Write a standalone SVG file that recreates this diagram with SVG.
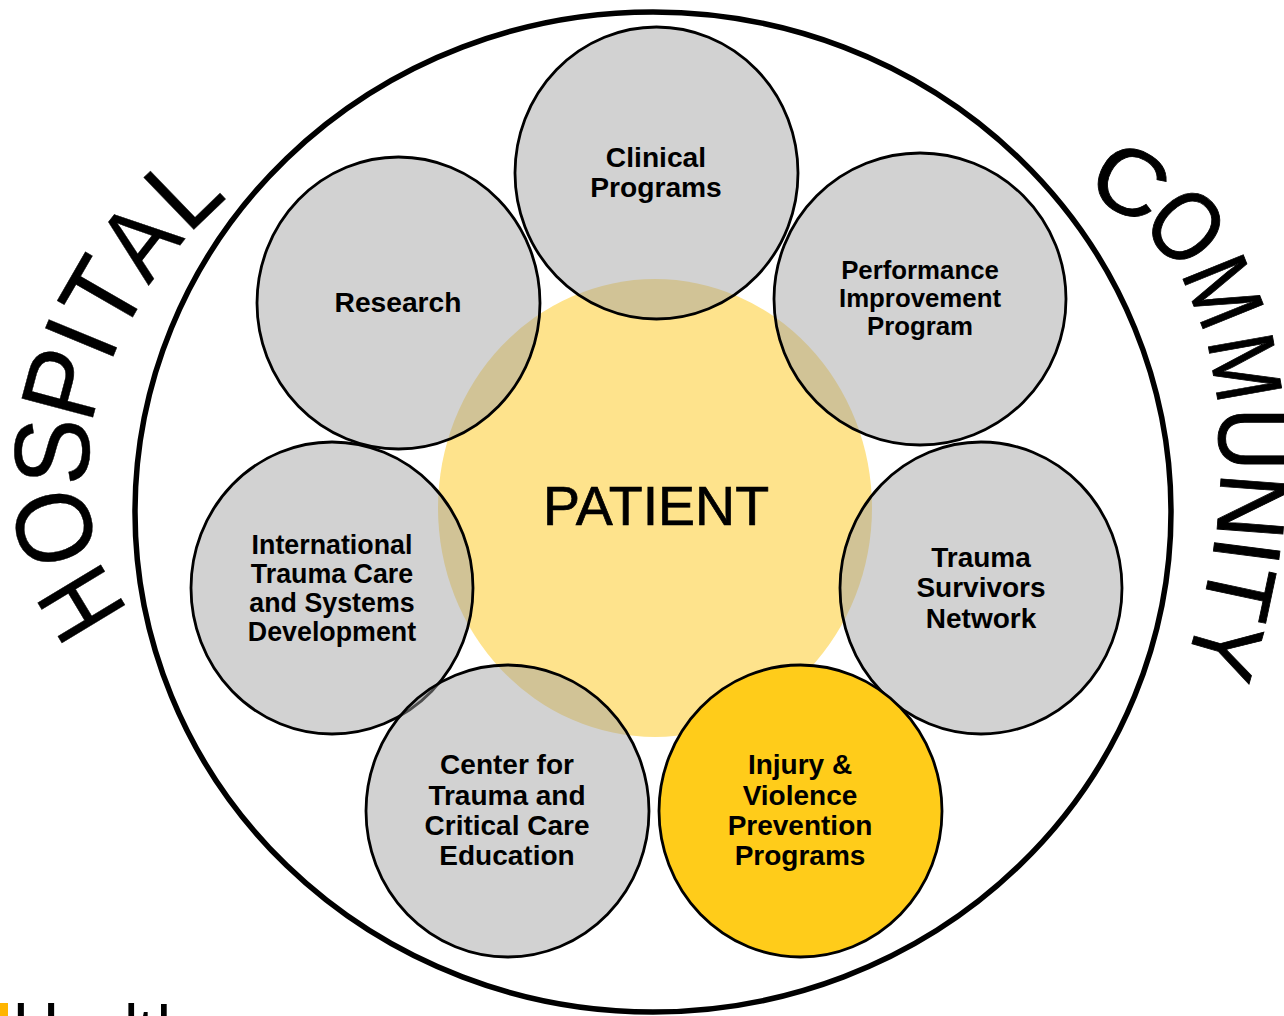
<svg xmlns="http://www.w3.org/2000/svg" width="1284" height="1016" viewBox="0 0 1284 1016">
<style>
text{font-family:"Liberation Sans",Arial,sans-serif;text-anchor:middle;fill:#000}
.n{fill:#a0a0a0;fill-opacity:.48;stroke:#000;stroke-width:2.8}
.c{font-size:28.200px;font-weight:700}
.p{font-size:25.800px;font-weight:700}
.i{font-size:26.800px;font-weight:700}
.m{font-size:28px;font-weight:700}
.w{font-size:100px}
#hospital text{stroke:#000;stroke-width:.4}
#community text{stroke:#000;stroke-width:.9}
</style>
<rect width="1284" height="1016" fill="#fff"/>
<g id="outer"><ellipse cx="653" cy="512" rx="518" ry="500" fill="#fff" stroke="#000" stroke-width="5.500"/></g>
<g id="patient"><ellipse cx="655" cy="508" rx="217" ry="229" fill="#fee38c"/><text x="656" y="525" font-size="55.500" stroke="#000" stroke-width=".7">PATIENT</text></g>
<g id="connectors"></g>
<g id="clinical"><ellipse class="n" cx="656.500" cy="173" rx="141.500" ry="146"/><text class="c" x="656" y="167">Clinical</text><text class="c" x="656" y="197">Programs</text></g>
<g id="research"><ellipse class="n" cx="398.500" cy="303" rx="141.500" ry="146"/><text class="c" x="398" y="312">Research</text></g>
<g id="performance"><ellipse class="n" cx="920" cy="299" rx="146" ry="146"/><text class="p" x="920" y="279">Performance</text><text class="p" x="920" y="307">Improvement</text><text class="p" x="920" y="335">Program</text></g>
<g id="survivors"><ellipse class="n" cx="981" cy="588" rx="141" ry="146"/><text class="m" x="981" y="567">Trauma</text><text class="m" x="981" y="597">Survivors</text><text class="m" x="981" y="628">Network</text></g>
<g id="international"><ellipse class="n" cx="332" cy="588" rx="141" ry="146"/><text class="i" x="332" y="553.500">International</text><text class="i" x="332" y="582.500">Trauma Care</text><text class="i" x="332" y="611.500">and Systems</text><text class="i" x="332" y="640.500">Development</text></g>
<g id="education"><ellipse class="n" cx="507.500" cy="811" rx="141.500" ry="146"/><text class="m" x="507" y="774">Center for</text><text class="m" x="507" y="805">Trauma and</text><text class="m" x="507" y="835">Critical Care</text><text class="m" x="507" y="865">Education</text></g>
<g id="prevention"><ellipse cx="800.500" cy="811" rx="141.500" ry="146" fill="#ffcc1a" stroke="#000" stroke-width="2.800"/><text class="m" x="800" y="774">Injury &amp;</text><text class="m" x="800" y="805">Violence</text><text class="m" x="800" y="835">Prevention</text><text class="m" x="800" y="865">Programs</text></g>
<g id="hospital">
<text class="w" transform="translate(113 585) rotate(-121) scale(.84 1.07)">H</text>
<text class="w" transform="translate(90 518) rotate(-105) scale(.97 1.08)">O</text>
<text class="w" transform="translate(89 453) rotate(-88) scale(1 1.07)">S</text>
<text class="w" transform="translate(99.500 393) rotate(-75) scale(1 1.07)">P</text>
<text class="w" transform="translate(115 352) rotate(-67.500) scale(1 1.07)">I</text>
<text class="w" transform="translate(135 313) rotate(-60) scale(1 1.07)">T</text>
<text class="w" transform="translate(167 262) rotate(-52) scale(.9 1.03)">A</text>
<text class="w" transform="translate(208 216) rotate(-44) scale(1 1.05)">L</text>
</g>
<g id="community">
<text class="w" transform="translate(1115 210) rotate(28) scale(1 .93)">C</text>
<text class="w" transform="translate(1161 250) rotate(47) scale(.84 1)">O</text>
<text class="w" transform="translate(1193 304) rotate(68) scale(.8 .945)">M</text>
<text class="w" transform="translate(1213 373) rotate(80) scale(.8 .945)">M</text>
<text class="w" transform="translate(1219 439) rotate(90) scale(.88 1)">U</text>
<text class="w" transform="translate(1219 504) rotate(94.400) scale(.9 .96)">N</text>
<text class="w" transform="translate(1214 547) rotate(97.300) scale(.9 .96)">I</text>
<text class="w" transform="translate(1207 585) rotate(102) scale(.9 .95)">T</text>
<text class="w" transform="translate(1193 640) rotate(106) scale(.87 .96)">Y</text>
</g>
<g id="logo"><rect x="0" y="1003" width="8" height="13" fill="#ffb500"/><text x="12.500 60 95 124 137 156.500" y="1048 1056 1056 1050 1054 1051" font-size="65" style="text-anchor:start">Health</text></g>
</svg>
